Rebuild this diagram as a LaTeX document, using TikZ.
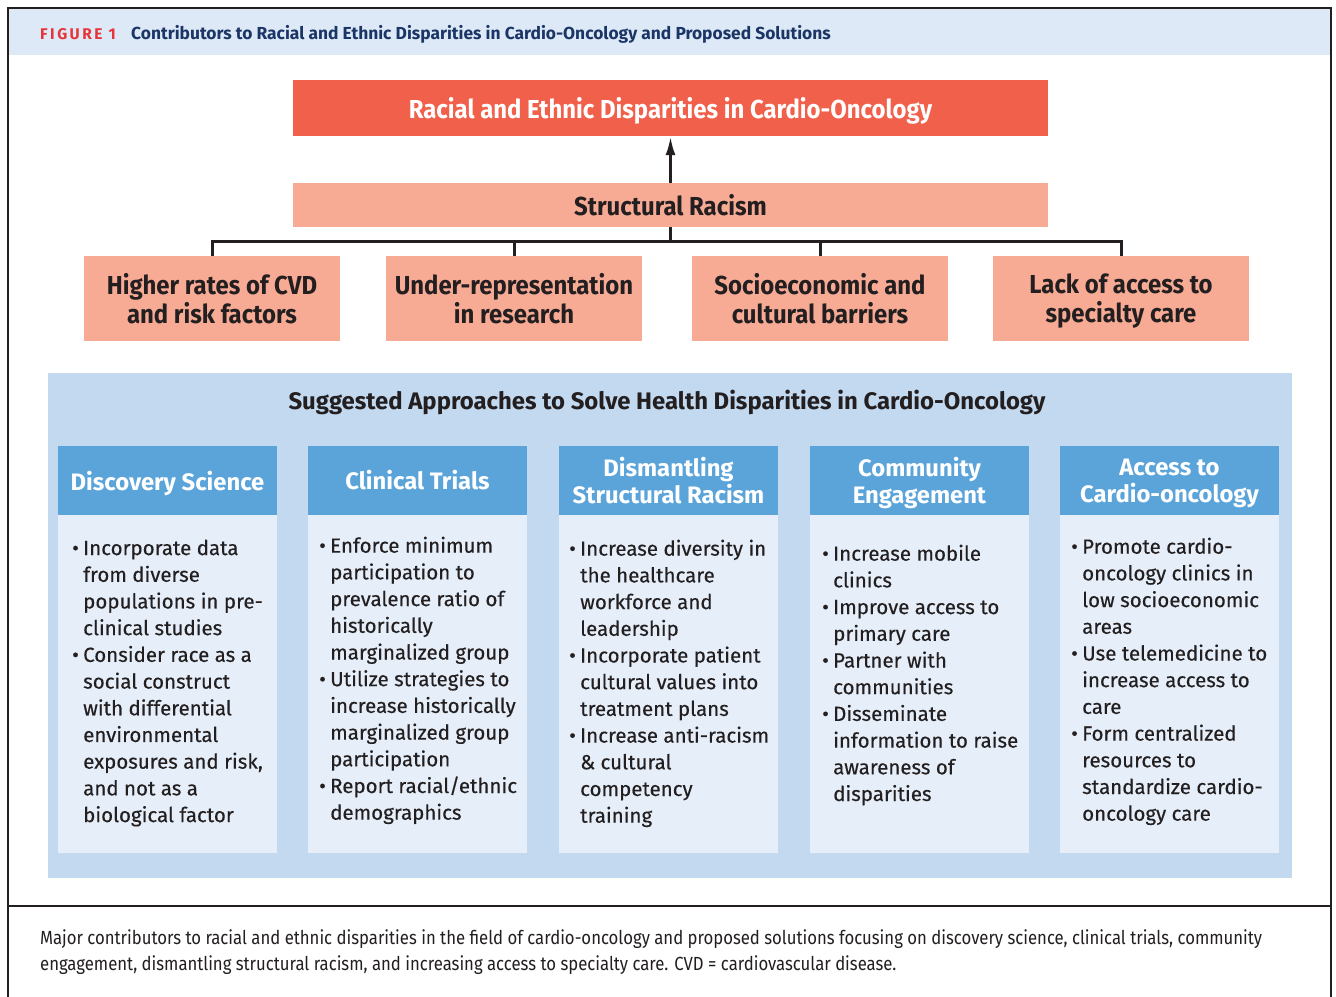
\documentclass[tikz,border=0pt]{standalone}
\usepackage{fontspec}
\setmainfont{Fira Sans}
\newfontfamily\condfont[FakeStretch=0.92]{Fira Sans}
\newfontfamily\capfont[FakeStretch=0.88]{Fira Sans}
\newfontfamily\bodyfont[FakeBold=0.35]{Fira Sans}
\usetikzlibrary{arrows.meta}

\definecolor{hdrblue}{HTML}{DDE9F6}
\definecolor{disred}{HTML}{F0604A}
\definecolor{salmon}{HTML}{F7AB94}
\definecolor{panelblue}{HTML}{C3D9F0}
\definecolor{colhead}{HTML}{5BA4DA}
\definecolor{colbody}{HTML}{E6EFF9}
\definecolor{navy}{HTML}{1B3566}
\definecolor{figred}{HTML}{E6343A}
\definecolor{ink}{HTML}{231F20}

\newcommand{\bul}{\makebox[11pt][l]{\textbullet}}
\newcommand{\cont}{\\\hspace*{11pt}}
\newcommand{\nodp}[1]{\raisebox{0pt}[\height][0pt]{#1}}

\tikzset{
  topbox/.style={fill=disred, text=white, minimum width=755pt, minimum height=56pt,
    inner sep=0pt, font=\condfont\bfseries\fontsize{26}{29}\selectfont},
  racebox/.style={fill=salmon, text=ink, minimum width=755pt, minimum height=44pt,
    inner sep=0pt, font=\condfont\bfseries\fontsize{26}{29}\selectfont},
  factor/.style={fill=salmon, text=ink, minimum width=256pt, minimum height=85pt,
    inner sep=0pt, align=center, font=\condfont\bfseries\fontsize{26}{29}\selectfont},
  colhd/.style={fill=colhead, text=white, minimum width=219pt, minimum height=69pt,
    inner sep=0pt, align=center, font=\bfseries\fontsize{23.8}{27.5}\selectfont},
  colbd/.style={anchor=north west, inner sep=0pt, align=left, text=ink,
    font=\bodyfont\fontsize{20.5}{26.7}\selectfont},
  tree/.style={line width=3pt, draw=ink},
}

\begin{document}
\begin{tikzpicture}[x=1pt, y=-1pt]
  \useasboundingbox (0,0) rectangle (1336,996);
  \fill[white] (0,0) rectangle (1336,996);

  \fill[hdrblue] (8,8) rectangle (1331,55);
  \draw[line width=2pt, draw=ink] (8,1000) -- (8,8) -- (1331,8) -- (1331,1000);
  \draw[line width=2pt, draw=ink] (8,906) -- (1331,906);
  \node[anchor=base west, inner sep=0pt, text=figred,
    font=\bfseries\fontsize{15.5}{18}\selectfont\addfontfeatures{LetterSpace=16}] (fig) at (40,39.5) {FIGURE 1};
  \node[anchor=base west, inner sep=0pt, text=navy,
    font=\bfseries\fontsize{17.4}{20}\selectfont] (ttl) at (131,39.5)
    {Contributors to Racial and Ethnic Disparities in Cardio-Oncology and Proposed Solutions};

  \node[topbox] (disp) at (670.5,108) {\nodp{Racial and Ethnic Disparities in Cardio-Oncology}};
  \node[racebox] (sr) at (670.5,205) {Structural Racism};
  \node[factor] (f1) at (212,298.5) {Higher rates of CVD\\and risk factors};
  \node[factor] (f2) at (514,298.5) {Under-representation\\in research};
  \node[factor] (f3) at (820,298.5) {Socioeconomic and\\cultural barriers};
  \node[factor] (f4) at (1121,298.5) {Lack of access to\\\nodp{specialty care}};

  \draw[tree, -{Latex[length=19pt,width=10pt]}] (sr.north) -- (disp.south);
  \draw[tree] (sr.south) -- ++(0,15);
  \draw[tree] (f1.north) -- ++(0,-14) -| (f4.north);
  \draw[tree] (f2.north) -- ++(0,-14);
  \draw[tree] (f3.north) -- ++(0,-14);

  \fill[panelblue] (48,373) rectangle (1292,878);
  \node[text=ink, font=\bfseries\fontsize{23.9}{27}\selectfont] (sugg) at (667,402)
    {Suggested Approaches to Solve Health Disparities in Cardio-Oncology};

  \fill[colbody] (58,515) rectangle (277,853);
  \fill[colbody] (308,515) rectangle (527,853);
  \fill[colbody] (559,515) rectangle (778,853);
  \fill[colbody] (810,515) rectangle (1029,853);
  \fill[colbody] (1060,515) rectangle (1279,853);

  \node[colhd] (h1) at (167.5,480.5) {\nodp{Discovery Science}};
  \node[colhd] (h2) at (417.5,480.5) {Clinical Trials};
  \node[colhd] (h3) at (668.5,480.5) {Dismantling\\Structural Racism};
  \node[colhd] (h4) at (919.5,480.5) {Community\\\nodp{Engagement}};
  \node[colhd] (h5) at (1169.5,480.5) {Access to\\\nodp{Cardio-oncology}};

  \node[colbd] (b1) at (72,539.5) {\bul Incorporate data\cont from diverse\cont populations in pre-\cont clinical studies\\
    \bul Consider race as a\cont social construct\cont with differential\cont environmental\cont exposures and risk,\cont and not as a\cont biological factor};
  \node[colbd] (b2) at (319,536.5) {\bul Enforce minimum\cont participation to\cont prevalence ratio of\cont historically\cont marginalized group\\
    \bul Utilize strategies to\cont increase historically\cont marginalized group\cont participation\\
    \bul Report racial/ethnic\cont demographics};
  \node[colbd] (b3) at (569,539.5) {\bul Increase diversity in\cont the healthcare\cont workforce and\cont leadership\\
    \bul Incorporate patient\cont cultural values into\cont treatment plans\\
    \bul Increase anti-racism\cont \& cultural\cont competency\cont training};
  \node[colbd] (b4) at (822,544.5) {\bul Increase mobile\cont clinics\\
    \bul Improve access to\cont primary care\\
    \bul Partner with\cont communities\\
    \bul Disseminate\cont information to raise\cont awareness of\cont disparities};
  \node[colbd] (b5) at (1071,537.5) {\bul Promote cardio-\cont oncology clinics in\cont low socioeconomic\cont areas\\
    \bul Use telemedicine to\cont increase access to\cont care\\
    \bul Form centralized\cont resources to\cont standardize cardio-\cont oncology care};

  \node[anchor=north west, inner sep=0pt, align=left, text=ink,
    font=\capfont\fontsize{19}{26}\selectfont] (cap) at (40,929)
    {Major contributors to racial and ethnic disparities in the field of cardio-oncology and proposed solutions focusing on discovery science, clinical trials, community\\
    engagement, dismantling structural racism, and increasing access to specialty care. CVD = cardiovascular disease.};
\end{tikzpicture}
\end{document}
